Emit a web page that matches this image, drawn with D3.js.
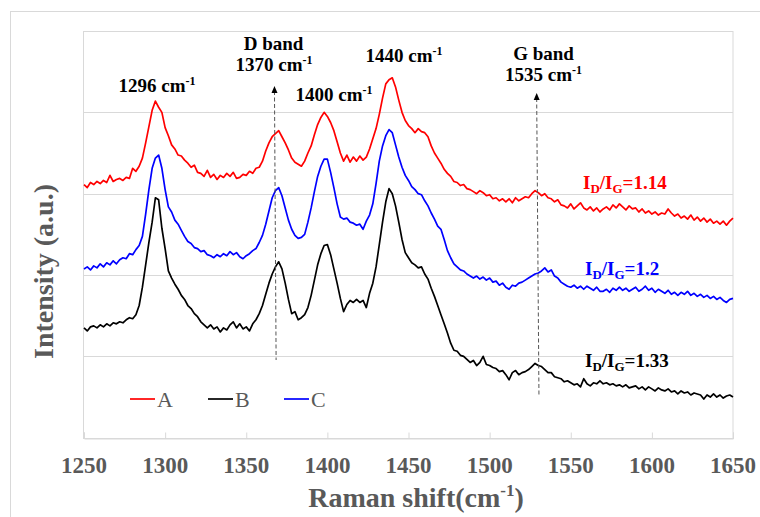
<!DOCTYPE html>
<html>
<head>
<meta charset="utf-8">
<script src="https://cdn.jsdelivr.net/npm/d3@7/dist/d3.min.js"></script>
<style>
  html, body { margin: 0; padding: 0; background: #fff; }
  svg { display: block; }
  text { font-family: "Times New Roman", "Liberation Serif", serif; }
</style>
</head>
<body>
<svg id="chart" width="760" height="517"></svg>
<script>
// Raman spectra of three samples, sampled every 2 cm-1 from 1250 to 1650 cm-1
const wavenumbers = d3.range(1250, 1651, 2);

const seriesA = [
  249, 246, 251, 249, 252, 250, 253, 251, 258, 252,
  254, 255, 253, 256, 255, 265, 262, 267, 275, 290,
  306, 322, 331, 325, 320, 305, 297, 288, 284, 278,
  277, 273, 270, 266, 268, 261, 260, 257, 263, 256,
  259, 254, 258, 256, 260, 257, 261, 255, 256, 259,
  258, 262, 260, 265, 266, 272, 282, 290, 296, 299,
  302, 296, 290, 283, 275, 271, 269, 267, 272, 280,
  287, 298, 308, 315, 320, 316, 310, 302, 291, 280,
  272, 278, 271, 276, 272, 277, 273, 276, 284, 294,
  304, 318, 334, 348, 352, 354, 345, 332, 320, 312,
  307, 304, 300, 304, 301, 300, 296, 287, 280, 275,
  270, 264, 260, 257, 252, 251, 248, 249, 245, 244,
  242, 240, 243, 241, 238, 239, 235, 236, 233, 235,
  232, 235, 231, 236, 233, 235, 237, 236, 240, 243,
  241, 238, 240, 236, 235, 232, 234, 229, 228, 226,
  230, 225, 228, 231, 226, 224, 227, 223, 226, 222,
  225, 227, 224, 229, 226, 230, 227, 224, 228, 225,
  226, 222, 225, 221, 223, 220, 222, 219, 221, 220,
  225, 221, 218, 220, 216, 218, 215, 219, 214, 217,
  213, 216, 212, 215, 211, 213, 210, 213, 209, 213,
  216
];

const seriesB = [
  108, 105, 109, 110, 108, 111, 109, 112, 110, 113,
  112, 114, 113, 116, 118, 117, 121, 130, 148, 170,
  192, 212, 236, 234, 206, 186, 164, 157, 151, 146,
  140, 136, 130, 127, 122, 119, 114, 111, 108, 111,
  107, 109, 104, 108, 106, 111, 114, 108, 112, 107,
  109, 105, 112, 116, 122, 130, 141, 152, 161, 168,
  173, 166, 152, 136, 122, 124, 116, 118, 121, 128,
  140, 155, 170, 181, 189, 190, 180, 166, 152, 137,
  124, 131, 135, 133, 136, 133, 135, 128, 142, 152,
  168, 190, 212, 232, 245, 240, 228, 212, 195, 182,
  177, 172, 170, 167, 168, 161, 156, 147, 139, 130,
  121, 112, 103, 93, 86, 85, 81, 80, 77, 74,
  76, 71, 74, 80, 72, 71, 69, 68, 65, 66,
  62, 57, 64, 66, 62, 64, 65, 67, 70, 73,
  71, 70, 67, 64, 64, 60, 59, 58, 55, 56,
  54, 52, 53, 50, 58, 53, 51, 54, 53, 56,
  53, 54, 52, 53, 51, 52, 50, 52, 49, 50,
  51, 48, 50, 47, 50, 48, 46, 49, 47, 46,
  48, 45, 46, 43, 46, 44, 45, 42, 44, 43,
  42, 38, 42, 40, 43, 40, 42, 39, 41, 42,
  40
];

const seriesC = [
  166, 168, 165, 169, 167, 171, 168, 172, 170, 174,
  171, 175, 177, 176, 181, 180, 185, 189, 198, 220,
  244, 265, 275, 278, 265, 244, 227, 222, 214, 210,
  204, 198, 193, 191, 187, 186, 183, 184, 180, 179,
  177, 180, 178, 181, 179, 183, 180, 182, 178, 176,
  179, 181, 184, 186, 192, 199, 210, 223, 236, 243,
  246, 238, 226, 214, 205, 199, 196, 197, 200, 212,
  226, 242, 257, 267, 274, 274, 261, 246, 230, 217,
  215, 216, 212, 211, 209, 210, 205, 213, 219, 230,
  250, 272, 287, 297, 303, 300, 288, 276, 266, 258,
  253, 247, 244, 240, 239, 233, 228, 221, 215, 208,
  205, 195, 184, 177, 171, 168, 165, 164, 161, 159,
  157, 159, 156, 158, 155, 157, 153, 154, 150, 152,
  148, 146, 150, 149, 152, 153, 155, 157, 159, 161,
  162, 164, 167, 163, 165, 159, 157, 153, 151, 149,
  148, 150, 147, 149, 146, 149, 147, 145, 148, 144,
  144, 146, 143, 147, 145, 148, 145, 147, 144, 146,
  148, 144, 146, 149, 145, 147, 143, 146, 144, 142,
  145, 141, 143, 140, 143, 141, 144, 140, 142, 139,
  141, 138, 140, 137, 139, 136, 138, 135, 133, 136,
  137
];

const seriesNames = ["A", "B", "C"];
const seriesColors = ["#ff0000", "#000000", "#0000ff"];
const xTicks = [1250, 1300, 1350, 1400, 1450, 1500, 1550, 1600, 1650];
const yGrid = [0, 80, 160, 240, 320, 400];

// peak labels: wavenumber text, optional band name
const peakLabels = [
  { text: "1296", band: null },
  { text: "1370", band: "D band" },
  { text: "1400", band: null },
  { text: "1440", band: null },
  { text: "1535", band: "G band" }
];
const ratioLabels = ["1.14", "1.2", "1.33"];

const svg = d3.select("#chart");
const W = 760, H = 517;
const plot = { left: 84, right: 733, top: 31, bottom: 437.7 };

const x = d3.scaleLinear().domain([1250, 1650]).range([plot.left, plot.right]);
const y = d3.scaleLinear().domain([0, 400]).range([plot.bottom, plot.top]);

const gray = "#595959";
const gridColor = "#d9d9d9";

// chart area frame
svg.append("rect")
  .attr("x", 10.5).attr("y", 11.5).attr("width", 800).attr("height", 600)
  .attr("fill", "#fff").attr("stroke", gridColor).attr("stroke-width", 1);

// horizontal gridlines
svg.append("g")
  .selectAll("line")
  .data(yGrid)
  .join("line")
  .attr("x1", plot.left).attr("x2", plot.right)
  .attr("y1", d => Math.round(y(d)) + 0.5).attr("y2", d => Math.round(y(d)) + 0.5)
  .attr("stroke", gridColor).attr("stroke-width", 1);

// plot frame
svg.append("rect")
  .attr("x", plot.left - 0.5).attr("y", Math.round(plot.top) + 0.5)
  .attr("width", plot.right - plot.left + 0.5)
  .attr("height", Math.round(plot.bottom) - Math.round(plot.top))
  .attr("fill", "none").attr("stroke", gridColor).attr("stroke-width", 1);

// x axis with inward ticks
const xAxis = d3.axisBottom(x).tickValues(xTicks).tickSize(-6).tickPadding(0).tickFormat("");
const axG = svg.append("g")
  .attr("transform", `translate(0,${Math.round(plot.bottom) + 0.5})`)
  .call(xAxis);
axG.select(".domain").attr("stroke", gridColor);
axG.selectAll(".tick line").attr("stroke", gridColor);

svg.append("g")
  .selectAll("text")
  .data(xTicks)
  .join("text")
  .attr("x", d => x(d))
  .attr("y", 473)
  .attr("text-anchor", "middle")
  .attr("font-size", 23)
  .attr("font-weight", "bold")
  .attr("fill", gray)
  .text(d => d);

// spectra
const line = d3.line()
  .x((d, i) => x(wavenumbers[i]))
  .y(d => y(d));

[seriesA, seriesB, seriesC].forEach((s, k) => {
  svg.append("path")
    .datum(s)
    .attr("d", line)
    .attr("fill", "none")
    .attr("stroke", seriesColors[k])
    .attr("stroke-width", 1.7)
    .attr("stroke-linejoin", "round");
});

// dashed band markers with arrowheads
function bandArrow(cmTop, cmBottom, yTop, yBottom) {
  const x1 = x(cmTop), x2 = x(cmBottom);
  svg.append("line")
    .attr("x1", x1).attr("y1", yTop + 5)
    .attr("x2", x2).attr("y2", yBottom)
    .attr("stroke", "#555").attr("stroke-width", 1)
    .attr("stroke-dasharray", "4,2.5");
  svg.append("path")
    .attr("d", `M${x1},${yTop} L${x1 - 3},${yTop + 7} L${x1 + 3},${yTop + 7} Z`)
    .attr("fill", "#000");
}
bandArrow(1367.4, 1368.4, 86, 360);
bandArrow(1529.0, 1530.4, 93, 395);

// peak annotations
const annot = svg.append("g")
  .attr("font-size", 19)
  .attr("font-weight", "bold")
  .attr("fill", "#000");

function cmText(cx, baseY, value) {
  const t = annot.append("text")
    .attr("x", cx).attr("y", baseY)
    .attr("text-anchor", "middle");
  t.append("tspan").text(value + " cm");
  t.append("tspan").attr("dy", -7).attr("font-size", 12).text("-1");
}
function plainText(cx, baseY, s) {
  annot.append("text")
    .attr("x", cx).attr("y", baseY)
    .attr("text-anchor", "middle")
    .text(s);
}

cmText(157, 91.5, peakLabels[0].text);
plainText(273.5, 49.5, peakLabels[1].band);
cmText(274, 71, peakLabels[1].text);
cmText(334, 100.5, peakLabels[2].text);
cmText(404, 62, peakLabels[3].text);
plainText(543.5, 59.5, peakLabels[4].band);
cmText(543.5, 81, peakLabels[4].text);

// intensity ratio labels
function ratioText(x0, baseY, value, color) {
  const t = svg.append("text")
    .attr("x", x0).attr("y", baseY)
    .attr("font-size", 19)
    .attr("font-weight", "bold")
    .attr("fill", color);
  t.append("tspan").text("I");
  t.append("tspan").attr("dy", 4).attr("font-size", 13).text("D");
  t.append("tspan").attr("dy", -4).text("/I");
  t.append("tspan").attr("dy", 4).attr("font-size", 13).text("G");
  t.append("tspan").attr("dy", -4).text("=" + value);
}
ratioText(583, 189, ratioLabels[0], seriesColors[0]);
ratioText(585, 274.5, ratioLabels[1], seriesColors[2]);
ratioText(585, 366.5, ratioLabels[2], seriesColors[1]);

// legend
const legendPos = [130, 208, 284];
const legend = svg.append("g");
seriesNames.forEach((name, k) => {
  legend.append("line")
    .attr("x1", legendPos[k]).attr("x2", legendPos[k] + 25)
    .attr("y1", 399).attr("y2", 399)
    .attr("stroke", seriesColors[k]).attr("stroke-width", 1.7);
  legend.append("text")
    .attr("x", legendPos[k] + 27).attr("y", 406.5)
    .attr("font-size", 22)
    .attr("fill", gray)
    .text(name);
});

// axis titles
const xt = svg.append("text")
  .attr("x", 416).attr("y", 507)
  .attr("text-anchor", "middle")
  .attr("font-size", 28)
  .attr("font-weight", "bold")
  .attr("fill", gray);
xt.append("tspan").text("Raman shift(cm");
xt.append("tspan").attr("dy", -11).attr("font-size", 17).text("-1");
xt.append("tspan").attr("dy", 11).text(")");

svg.append("text")
  .attr("transform", "translate(53,271.5) rotate(-90)")
  .attr("text-anchor", "middle")
  .attr("font-size", 28)
  .attr("font-weight", "bold")
  .attr("fill", gray)
  .text("Intensity (a.u.)");
</script>
</body>
</html>
